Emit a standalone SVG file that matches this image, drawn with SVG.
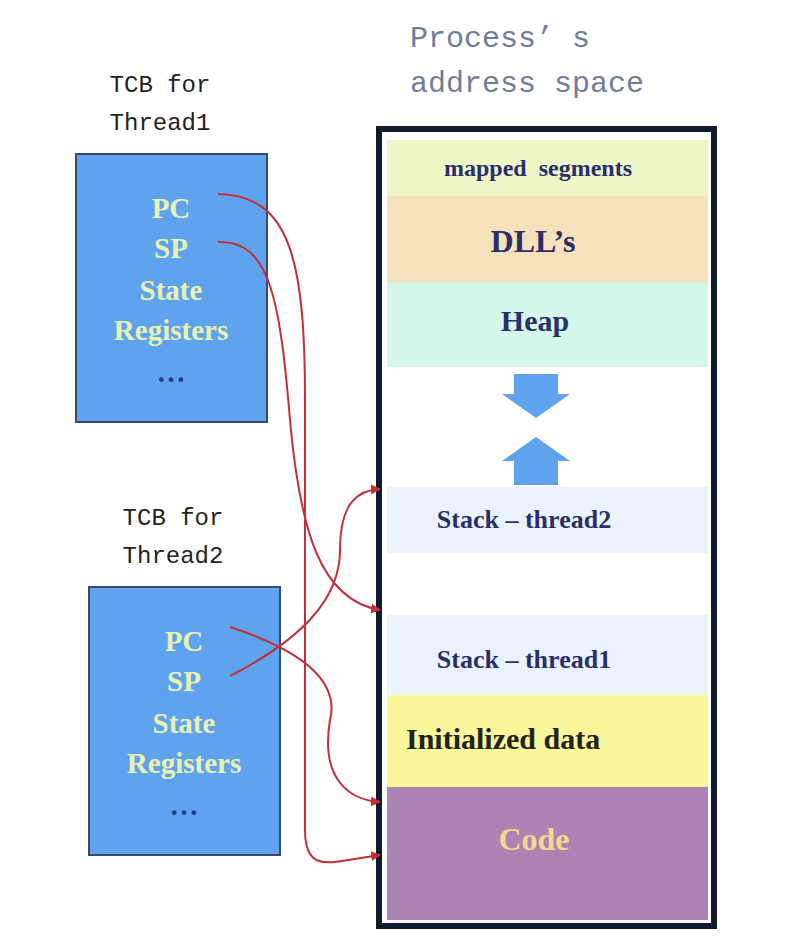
<svg xmlns="http://www.w3.org/2000/svg" width="802" height="948" viewBox="0 0 802 948">
<style>
.tcb{fill:#5fa3ef;stroke:#3a4a6a;stroke-width:2}
.tt{font-family:"Liberation Serif",serif;font-size:29px;font-weight:bold;fill:#e8f2b0;text-anchor:middle}
.lbl{font-family:"Liberation Mono",monospace;font-size:24px;fill:#222;text-anchor:middle}
.seg{font-family:"Liberation Serif",serif;font-weight:bold;fill:#2a2f6a;text-anchor:middle}
.c{fill:none;stroke:#c0303a;stroke-width:2;marker-end:url(#ah)}
</style>
<defs><marker id="ah" viewBox="0 0 10 10" refX="9" refY="5" markerWidth="5" markerHeight="5" orient="auto"><path d="M0,0L10,5L0,10z" fill="#c0303a"/></marker></defs>
<rect width="802" height="948" fill="#fff"/>
<g id="title"><text x="410" y="47" font-family="Liberation Mono,monospace" font-size="30" fill="#6f7d9a">Process’ s</text><text x="410" y="92" font-family="Liberation Mono,monospace" font-size="30" fill="#6f7d9a">address space</text></g>
<g id="space">
<rect x="379" y="129" width="335" height="797" fill="#fff" stroke="#0f1a2a" stroke-width="6"/>
<rect x="387" y="140" width="321" height="56" fill="#eef6c8"/>
<text class="seg" x="538" y="176" font-size="24" word-spacing="6">mapped segments</text>
<rect x="387" y="196" width="321" height="86" fill="#f5e2bd"/>
<text class="seg" x="533" y="252" font-size="32">DLL’s</text>
<rect x="387" y="282" width="321" height="85" fill="#d4f7ea"/>
<text class="seg" x="535" y="331" font-size="30">Heap</text>
<path d="M514,374h44v20h12l-34,24l-34,-24h12z" fill="#5fa3ef"/>
<path d="M536,437l34,24h-12v24h-44v-24h-12z" fill="#5fa3ef"/>
<rect x="387" y="487" width="321" height="66" fill="#eaf3fc"/>
<text class="seg" x="524" y="528" font-size="26">Stack – thread2</text>
<rect x="387" y="615" width="321" height="80" fill="#eaf3fc"/>
<text class="seg" x="524" y="668" font-size="26">Stack – thread1</text>
<rect x="387" y="695" width="321" height="92" fill="#f9f79a"/>
<text x="406" y="749" font-family="Liberation Serif,serif" font-weight="bold" font-size="30" fill="#222">Initialized data</text>
<rect x="387" y="787" width="321" height="133" fill="#ab84b4"/>
<text x="534" y="850" font-family="Liberation Serif,serif" font-weight="bold" font-size="32" fill="#f0d890" text-anchor="middle">Code</text>
</g>
<g id="tcb1">
<text class="lbl" x="160" y="92">TCB for</text><text class="lbl" x="160" y="130">Thread1</text>
<rect class="tcb" x="76" y="154" width="191" height="268"/>
<text class="tt" x="171" y="218">PC</text><text class="tt" x="171" y="258">SP</text><text class="tt" x="171" y="300">State</text><text class="tt" x="171" y="340">Registers</text><text class="tt" x="171" y="382" style="fill:#2a3a8a">…</text>
</g>
<g id="tcb2">
<text class="lbl" x="173" y="525">TCB for</text><text class="lbl" x="173" y="563">Thread2</text>
<rect class="tcb" x="89" y="587" width="191" height="268"/>
<text class="tt" x="184" y="651">PC</text><text class="tt" x="184" y="691">SP</text><text class="tt" x="184" y="733">State</text><text class="tt" x="184" y="773">Registers</text><text class="tt" x="184" y="815" style="fill:#2a3a8a">…</text>
</g>
<g id="connectors">
<path class="c" d="M218,194 C290,195 305,260 305,400 L305,830 C305,875 330,862 380,855"/>
<path class="c" d="M218,242 C270,240 280,300 290,420 C300,530 320,600 380,610"/>
<path class="c" d="M230,627 C300,650 340,680 330,720 C320,780 350,800 380,802"/>
<path class="c" d="M230,676 C300,640 340,600 340,550 C340,500 360,490 380,489"/>
</g>
</svg>
